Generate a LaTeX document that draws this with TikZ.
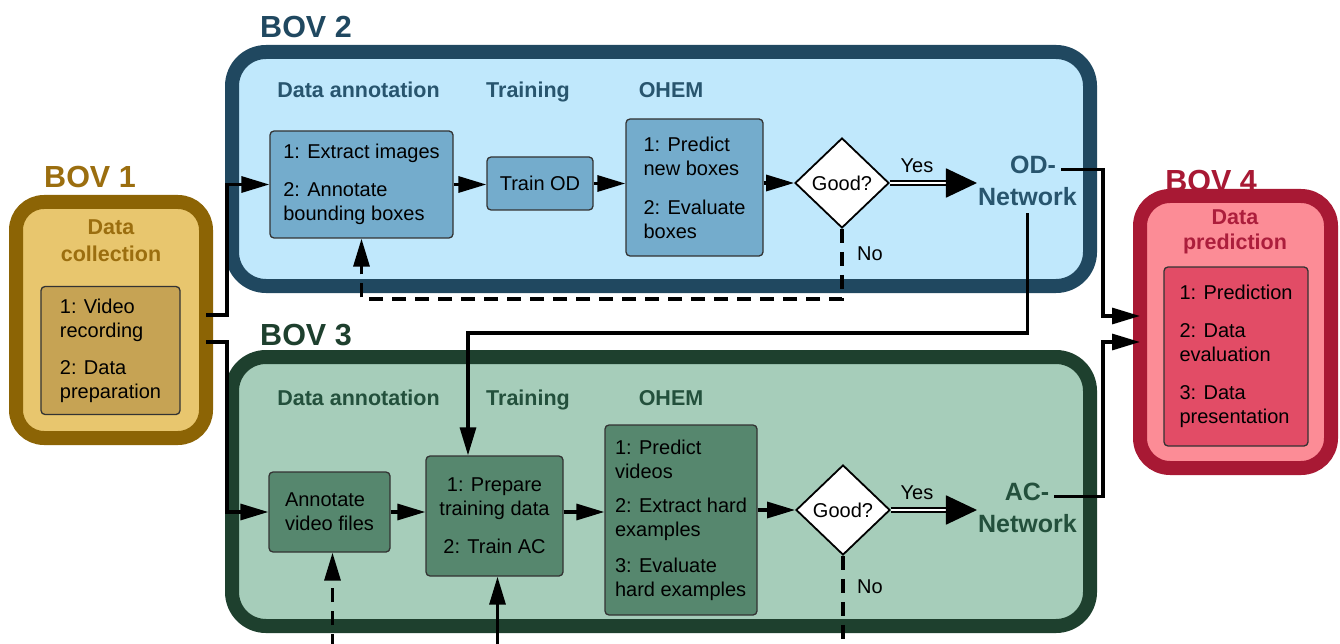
\documentclass[tikz,border=0pt]{standalone}
\usepackage{fontspec}
\setmainfont{Liberation Sans}
\usetikzlibrary{shapes.geometric,arrows.meta}
\definecolor{bA}{RGB}{140,100,5}
\definecolor{fA}{RGB}{232,198,110}
\definecolor{iA}{RGB}{198,163,84}
\definecolor{tA}{RGB}{155,110,15}
\definecolor{bB}{RGB}{32,72,96}
\definecolor{fB}{RGB}{192,232,252}
\definecolor{iB}{RGB}{116,172,204}
\definecolor{tB}{RGB}{40,85,110}
\definecolor{bC}{RGB}{30,64,46}
\definecolor{fC}{RGB}{166,205,186}
\definecolor{iC}{RGB}{86,135,110}
\definecolor{tC}{RGB}{35,80,60}
\definecolor{bD}{RGB}{168,25,52}
\definecolor{fD}{RGB}{252,140,150}
\definecolor{iD}{RGB}{226,76,102}
\definecolor{tD}{RGB}{172,30,60}
\begin{document}
\begin{tikzpicture}[x=1pt,y=-1pt,
  frame/.style={shape=rectangle, line width=14pt, outer sep=0pt, inner sep=0pt},
  stepbox/.style={draw=black!80, line width=1.3pt, rounded corners=4pt, inner sep=0pt, align=left, font=\fontsize{20}{24}\selectfont, text=black},
  hdr/.style={font=\bfseries\fontsize{21.5}{26}\selectfont, anchor=base, inner sep=0pt},
  ttl/.style={font=\bfseries\fontsize{30.5}{36}\selectfont, anchor=base, inner sep=0pt},
  lbl/.style={font=\fontsize{20}{24}\selectfont, anchor=base, inner sep=0pt},
  net/.style={font=\bfseries\fontsize{25}{30}\selectfont, anchor=base, inner sep=1pt},
  decision/.style={diamond, draw=black, fill=white, line width=1.8pt, minimum width=94pt, minimum height=90pt, inner sep=0pt, font=\fontsize{20}{24}\selectfont},
  conn/.style={line width=3.2pt, -{Triangle[length=28pt,width=16pt]}},
  plainline/.style={line width=3.2pt},
  dashconn/.style={conn, dash pattern=on 14pt off 9pt},
  dashline/.style={plainline, dash pattern=on 14pt off 9pt},
  yesarrow/.style={draw=black, double=white, double distance=2.4pt, line width=1.8pt, -{Triangle[length=31pt,width=29pt]}},
]
\useasboundingbox (0,0) rectangle (1340,644);
\fill[white] (0,0) rectangle (1340,644);

% titles
\node[ttl, text=tA] (t1) at (90,188) {BOV 1};
\node[ttl, text=bB] (t2) at (306,38) {BOV 2};
\node[ttl, text=bC] (t3) at (306,345) {BOV 3};
\node[ttl, text=bD] (t4) at (1211,192) {BOV 4};

% frames
\node[frame, draw=bA, fill=fA, minimum width=190pt, minimum height=236pt, rounded corners=28pt] (b1) at (111,320) {};
\node[frame, draw=bB, fill=fB, minimum width=858pt, minimum height=234pt, rounded corners=34pt] (b2) at (661,169) {};
\node[frame, draw=bC, fill=fC, minimum width=858pt, minimum height=269pt, rounded corners=34pt] (b3) at (661,491.5) {};
\node[frame, draw=bD, fill=fD, minimum width=191pt, minimum height=272pt, rounded corners=30pt] (b4) at (1235.5,332) {};

% BOV 1 content
\node[font=\bfseries\fontsize{21.5}{27}\selectfont, align=center, text=tA, inner sep=0pt] (h1) at (111,241) {Data\\collection};
\node[stepbox, fill=iA, minimum width=139pt, minimum height=128pt] (s1) at (110.5,350.5) {1: Video\\recording\\[13pt]2: Data\\preparation};

% BOV 4 content
\node[font=\bfseries\fontsize{21.5}{25}\selectfont, align=center, text=tD, inner sep=0pt] (h4) at (1235,232) {Data\\prediction};
\node[stepbox, fill=iD, minimum width=144pt, minimum height=179pt] (s4) at (1236,356.5) {1: Prediction\\[14pt]2: Data\\evaluation\\[14pt]3: Data\\presentation};

% BOV 2 content
\node[hdr, text=tB] (h21) at (358.5,98) {Data annotation};
\node[hdr, text=tB] (h22) at (528,98) {Training};
\node[hdr, text=tB] (h23) at (671,98) {OHEM};
\node[stepbox, fill=iB, minimum width=183pt, minimum height=107pt] (ext) at (361.5,184.5) {1: Extract images\\[14pt]2: Annotate\\bounding boxes};
\node[stepbox, fill=iB, minimum width=106pt, minimum height=53pt] (tod) at (540,183.5) {Train OD};
\node[stepbox, fill=iB, minimum width=137pt, minimum height=137pt] (ohem1) at (694.5,187.5) {1: Predict\\new boxes\\[15pt]2: Evaluate\\boxes};
\node[decision] (d1) at (842,183) {Good?};
\node[lbl] (y1) at (917,173) {Yes};
\node[lbl] (n1) at (870,260) {No};
\node[net, text=tB] (od1) at (1033,174) {OD-};
\node[net, text=tB] (od2) at (1027.5,206) {Network};

% BOV 3 content
\node[hdr, text=tC] (h31) at (358.5,405) {Data annotation};
\node[hdr, text=tC] (h32) at (528,405) {Training};
\node[hdr, text=tC] (h33) at (671,405) {OHEM};
\node[stepbox, fill=iC, minimum width=121pt, minimum height=80pt] (ann) at (329.5,512) {Annotate\\video files};
\node[stepbox, fill=iC, minimum width=137pt, minimum height=120pt, align=center] (prep) at (494.5,516) {1: Prepare\\training data\\[14pt]2: Train AC};
\node[stepbox, fill=iC, minimum width=152pt, minimum height=190pt] (ohem3) at (681,520) {1: Predict\\videos\\[10pt]2: Extract hard\\examples\\[12pt]3: Evaluate\\hard examples};
\node[decision] (d3) at (843,510) {Good?};
\node[lbl] (y3) at (917,499) {Yes};
\node[lbl] (n3) at (870,593) {No};
\node[net, text=tC] (ac1) at (1027,500) {AC-};
\node[net, text=tC] (ac2) at (1027.5,532) {Network};

% coordinates
\coordinate (j1) at (227,0);
\coordinate (j2) at (1103,0);
\coordinate (k1) at (468,333);
\coordinate (bot) at (0,648);
\coordinate (in1) at ([yshift=16pt]b4.west);
\coordinate (in2) at ([yshift=-10pt]b4.west);
\coordinate (annin) at ([xshift=3pt]ann.south);
\coordinate (prepin) at ([xshift=3pt]prep.south);

% connectors
\draw[conn] ([yshift=5pt]b1.east) -| (j1 |- ext.west) -- (ext.west);
\draw[conn] ([yshift=-22pt]b1.east) -| (j1 |- ann.west) -- (ann.west);
\draw[conn] (ext.east) -- (ext.east -| tod.west);
\draw[conn] (tod.east) -- (tod.east -| ohem1.west);
\draw[conn] (d1.west -| ohem1.east) -- (d1.west);
\draw[yesarrow] (d1.east) -- (d1.east -| od2.west);
\draw[dashconn] (d1.south) -- ++(0,70) -| (ext.south);
\draw[conn, shorten <=6pt] (od2.south) |- (k1) -- (k1 |- prep.north);
\draw[conn, shorten <=4pt] ([yshift=-4pt]od1.east) -| (j2 |- in1) -- (in1);
\draw[conn, shorten <=4pt] ([yshift=-5pt]ac1.east) -| (j2 |- in2) -- (in2);
\draw[conn] (ann.east) -- (ann.east -| prep.west);
\draw[conn] (ann.east -| prep.east) -- (ann.east -| ohem3.west);
\draw[conn] (d3.west -| ohem3.east) -- (d3.west);
\draw[yesarrow] (d3.east) -- (d3.east -| ac2.west);
\draw[dashline] (d3.south) -- (d3.south |- bot);
\draw[dashconn] (annin |- bot) -- (annin);
\draw[conn] (prepin |- bot) -- (prepin);
\end{tikzpicture}
\end{document}
